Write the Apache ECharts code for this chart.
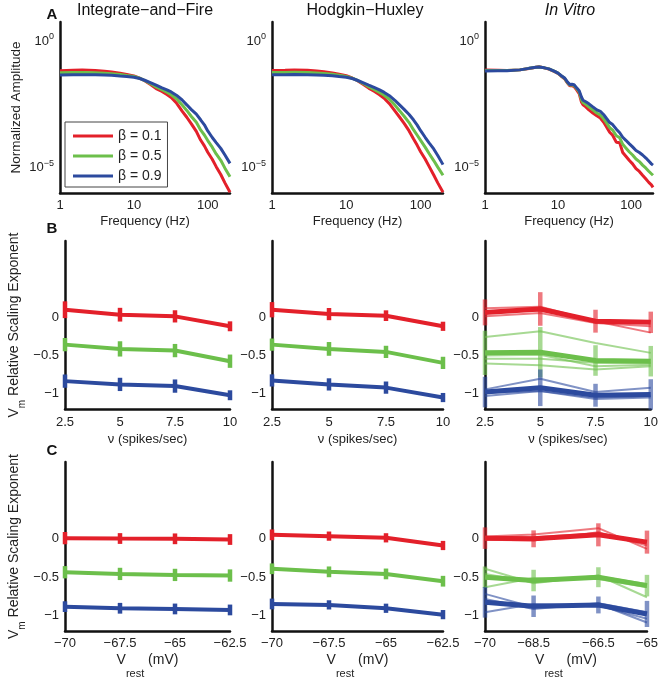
<!DOCTYPE html>
<html><head><meta charset="utf-8">
<script src="https://cdn.jsdelivr.net/npm/echarts@6/dist/echarts.min.js"></script>
<style>html,body{margin:0;padding:0;background:#fff}#c{width:661px;height:682px}</style>
</head><body><div id="c"></div><script>
// ---------------- data ----------------
const panelTitles = ['Integrate\u2212and\u2212Fire', 'Hodgkin\u2212Huxley', 'In Vitro'];
const panelLetters = ['A', 'B', 'C'];
const betaNames = ['\u03b2 = 0.1', '\u03b2 = 0.5', '\u03b2 = 0.9'];

const freqTicks = [1, 10, 100];
const freqTickLabels = ['1', '10', '100'];
const ampTicks = [1e-5, 1];
const ampTickLabels = ['10{sup|\u22125}', '10{sup|0}'];

// Row A: log10 of normalized amplitude
const modelFreq = [1, 1.5, 2, 3, 4, 5, 6.5, 8, 10, 12, 14, 17, 20, 24, 28, 32, 38, 45, 52, 60, 70, 80, 90, 100, 115, 130, 150, 170, 200];
const ifLogRed   = [-1.17, -1.15, -1.14, -1.16, -1.19, -1.22, -1.27, -1.32, -1.38, -1.47, -1.57, -1.73, -1.88, -1.99, -2.11, -2.23, -2.46, -2.77, -3.01, -3.27, -3.57, -3.91, -4.14, -4.39, -4.67, -4.96, -5.27, -5.59, -5.97];
const ifLogGreen = [-1.25, -1.24, -1.24, -1.25, -1.27, -1.29, -1.32, -1.36, -1.40, -1.47, -1.56, -1.69, -1.81, -1.92, -2.02, -2.12, -2.29, -2.53, -2.74, -2.98, -3.21, -3.51, -3.71, -3.93, -4.19, -4.46, -4.71, -5.01, -5.36];
const ifLogBlue  = [-1.34, -1.33, -1.33, -1.33, -1.34, -1.35, -1.38, -1.40, -1.43, -1.48, -1.55, -1.65, -1.74, -1.85, -1.93, -2.01, -2.15, -2.33, -2.52, -2.71, -2.89, -3.11, -3.31, -3.55, -3.81, -4.01, -4.24, -4.49, -4.83];
const hhLogRed   = [-1.16, -1.15, -1.14, -1.15, -1.18, -1.21, -1.26, -1.31, -1.37, -1.46, -1.56, -1.72, -1.86, -1.99, -2.12, -2.25, -2.47, -2.76, -3.00, -3.25, -3.55, -3.86, -4.12, -4.37, -4.66, -4.95, -5.29, -5.60, -5.97];
const hhLogGreen = [-1.24, -1.24, -1.23, -1.24, -1.26, -1.28, -1.31, -1.35, -1.40, -1.47, -1.55, -1.68, -1.80, -1.92, -2.03, -2.13, -2.30, -2.53, -2.75, -2.97, -3.22, -3.50, -3.72, -3.92, -4.19, -4.44, -4.72, -4.98, -5.30];
const hhLogBlue  = [-1.33, -1.33, -1.32, -1.33, -1.34, -1.35, -1.37, -1.40, -1.43, -1.48, -1.55, -1.65, -1.74, -1.84, -1.93, -2.02, -2.16, -2.34, -2.52, -2.70, -2.90, -3.11, -3.32, -3.54, -3.80, -4.02, -4.26, -4.52, -4.88];

const vitroFreq = [1, 1.5, 2, 3, 4, 5, 5.5, 6.5, 7.5, 9, 10, 11, 12.3, 13.5, 14.5, 15.5, 16.6, 18, 19.5, 21, 22, 24, 26.5, 30, 34, 38, 42, 46, 51, 56, 63, 70, 77, 85, 95, 105, 117, 130, 144, 160, 175, 190, 200];
const vitroLogRed   = [-1.14, -1.15, -1.16, -1.14, -1.09, -1.04, -1.02, -1.06, -1.11, -1.21, -1.28, -1.38, -1.49, -1.66, -1.77, -1.76, -1.80, -1.93, -2.08, -2.42, -2.52, -2.60, -2.72, -2.84, -2.95, -3.04, -3.20, -3.38, -3.60, -3.72, -4.00, -4.02, -4.40, -4.55, -4.72, -4.85, -5.04, -5.15, -5.30, -5.45, -5.58, -5.68, -5.78];
const vitroLogGreen = [-1.16, -1.16, -1.16, -1.14, -1.08, -1.04, -1.03, -1.06, -1.10, -1.20, -1.27, -1.37, -1.47, -1.64, -1.74, -1.73, -1.76, -1.88, -2.01, -2.32, -2.43, -2.50, -2.60, -2.72, -2.84, -2.92, -3.06, -3.22, -3.42, -3.52, -3.74, -3.82, -4.08, -4.22, -4.38, -4.50, -4.66, -4.76, -4.90, -5.02, -5.14, -5.24, -5.30];
const vitroLogBlue  = [-1.18, -1.17, -1.17, -1.14, -1.08, -1.04, -1.03, -1.06, -1.10, -1.20, -1.27, -1.36, -1.46, -1.62, -1.72, -1.71, -1.73, -1.85, -1.96, -2.22, -2.34, -2.40, -2.48, -2.60, -2.72, -2.78, -2.90, -3.05, -3.22, -3.30, -3.48, -3.62, -3.80, -3.92, -4.06, -4.18, -4.32, -4.40, -4.50, -4.62, -4.74, -4.85, -4.90];

// Rows B and C
const expTicks = [-1, -0.5, 0];
const expTickLabels = ['\u22121', '\u22120.5', '0'];
const rateVals = [2.5, 5, 7.5, 10];
const rateTickLabels = ['2.5', '5', '7.5', '10'];
const vrestModel = [-70, -67.5, -65, -62.5];
const vrestModelLabels = ['\u221270', '\u221267.5', '\u221265', '\u221262.5'];
const vrestVitro = [-70, -68.5, -66.5, -65];
const vrestVitroLabels = ['\u221270', '\u221268.5', '\u221266.5', '\u221265'];

// B: integrate-and-fire
const ifRateRed = [0.10, 0.035, 0.013, -0.117];
const ifRateGreen = [-0.357, -0.413, -0.435, -0.574];
const ifRateBlue = [-0.835, -0.878, -0.90, -1.02];
const ifRateErrRed = [0.11, 0.09, 0.08, 0.065];
const ifRateErrGreen = [0.087, 0.1, 0.087, 0.087];
const ifRateErrBlue = [0.087, 0.087, 0.087, 0.065];
// B: Hodgkin-Huxley
const hhRateRed = [0.10, 0.043, 0.022, -0.117];
const hhRateGreen = [-0.357, -0.413, -0.452, -0.596];
const hhRateBlue = [-0.826, -0.878, -0.92, -1.05];
const hhRateErrRed = [0.1, 0.08, 0.07, 0.06];
const hhRateErrGreen = [0.08, 0.09, 0.08, 0.08];
const hhRateErrBlue = [0.08, 0.08, 0.08, 0.06];
// B: in vitro (mean + individual cells)
const vRateRed = [0.065, 0.11, -0.05, -0.065];
const vRateGreen = [-0.465, -0.457, -0.565, -0.574];
const vRateBlue = [-0.978, -0.922, -1.02, -1.01];
const vRateErrRed = [0.17, 0.22, 0.15, 0.14];
const vRateErrGreen = [0.29, 0.33, 0.2, 0.2];
const vRateErrBlue = [0.2, 0.24, 0.15, 0.2];
const vRateCellRed1 = [0.12, 0.14, -0.05, -0.2];
const vRateCellRed2 = [0.013, 0.057, -0.074, -0.117];
const vRateCellRed3 = [0.08, 0.09, -0.04, -0.05];
const vRateCellGreen1 = [-0.257, -0.183, -0.335, -0.465];
const vRateCellGreen2 = [-0.543, -0.543, -0.596, -0.596];
const vRateCellGreen3 = [-0.604, -0.626, -0.683, -0.64];
const vRateCellGreen4 = [-0.5, -0.49, -0.64, -0.62];
const vRateCellBlue1 = [-0.943, -0.804, -0.978, -0.922];
const vRateCellBlue2 = [-1.03, -0.965, -1.07, -1.05];
const vRateCellBlue3 = [-0.987, -0.965, -1.05, -1.03];

// C: integrate-and-fire
const ifVRed = [0.009, 0.004, 0, -0.009];
const ifVGreen = [-0.435, -0.457, -0.47, -0.478];
const ifVBlue = [-0.883, -0.904, -0.913, -0.926];
const ifVErrRed = [0.08, 0.07, 0.07, 0.07];
const ifVErrGreen = [0.08, 0.08, 0.08, 0.08];
const ifVErrBlue = [0.07, 0.07, 0.07, 0.07];
// C: Hodgkin-Huxley
const hhVRed = [0.052, 0.035, 0.013, -0.087];
const hhVGreen = [-0.39, -0.43, -0.457, -0.552];
const hhVBlue = [-0.848, -0.86, -0.904, -0.987];
const hhVErrRed = [0.07, 0.06, 0.06, 0.06];
const hhVErrGreen = [0.07, 0.07, 0.07, 0.07];
const hhVErrBlue = [0.07, 0.06, 0.06, 0.06];
// C: in vitro
const vVRed = [0.009, 0, 0.052, -0.043];
const vVGreen = [-0.5, -0.543, -0.5, -0.609];
const vVBlue = [-0.826, -0.878, -0.861, -0.978];
const vVErrRed = [0.14, 0.11, 0.15, 0.15];
const vVErrGreen = [0.14, 0.14, 0.13, 0.14];
const vVErrBlue = [0.2, 0.14, 0.11, 0.17];
const vVCellRed1 = [0.03, 0.057, 0.139, -0.13];
const vVCellRed2 = [-0.013, -0.022, 0.087, -0.087];
const vVCellRed3 = [0.022, 0.022, 0.074, -0.043];
const vVCellGreen1 = [-0.39, -0.578, -0.478, -0.761];
const vVCellGreen2 = [-0.63, -0.509, -0.522, -0.63];
const vVCellGreen3 = [-0.457, -0.565, -0.491, -0.587];
const vVCellBlue1 = [-0.717, -0.891, -0.848, -1.09];
const vVCellBlue2 = [-0.957, -0.848, -0.87, -1.04];
const vVCellBlue3 = [-0.783, -0.913, -0.839, -0.957];

// ---------------- styling / layout ----------------
const COLORS = ['#E3202A', '#6CBF4B', '#2C4A9E'];
const FONT = 'Liberation Sans, Arial, Helvetica, sans-serif';
const colLeft = [60, 272, 485];
const colWidth = [170, 171, 168];
const rowTop = [22, 241, 462];
const rowHeight = [171, 168, 169];

const grids = [];
for (let r = 0; r < 3; r++) for (let c = 0; c < 3; c++) {
  grids.push({ left: colLeft[c], top: rowTop[r], width: colWidth[c], height: rowHeight[r], containLabel: false });
}

const axisLineStyle = { show: true, onZero: false, lineStyle: { color: '#111', width: 2.5 } };
const labelBase = { color: '#222', fontSize: 13, fontFamily: FONT };

function lookup(vals, labels) {
  return v => {
    for (let i = 0; i < vals.length; i++) {
      const d = Math.abs(vals[i] - v);
      if (d < 1e-9 || d / Math.max(Math.abs(vals[i]), 1e-12) < 1e-6) return labels[i];
    }
    return '';
  };
}

const xAxes = [], yAxes = [];
// Row A
for (let c = 0; c < 3; c++) {
  xAxes.push({
    type: 'log', logBase: 10, gridIndex: c, min: 1, max: 200,
    axisLine: axisLineStyle, axisTick: { show: false }, splitLine: { show: false },
    axisLabel: Object.assign({}, labelBase, { customValues: freqTicks, formatter: lookup(freqTicks, freqTickLabels), margin: 6 }),
    name: 'Frequency (Hz)', nameLocation: 'middle', nameGap: 22, nameMoveOverlap: false,
    nameTextStyle: { color: '#222', fontSize: 13, fontFamily: FONT }
  });
  yAxes.push({
    type: 'log', logBase: 10, gridIndex: c, min: 1e-6, max: 5.62,
    axisLine: axisLineStyle, axisTick: { show: false }, splitLine: { show: false },
    axisLabel: Object.assign({}, labelBase, {
      customValues: ampTicks, formatter: lookup(ampTicks, ampTickLabels), margin: 6, lineHeight: 18,
      rich: { sup: { fontSize: 9, lineHeight: 9, verticalAlign: 'top', color: '#222', fontFamily: FONT } }
    }),
    name: c === 0 ? 'Normalized Amplitude' : '', nameLocation: 'middle', nameGap: 36, nameMoveOverlap: false,
    nameTextStyle: { color: '#222', fontSize: 13.5, fontFamily: FONT, lineHeight: 15 }
  });
}
// Rows B, C
const rowXDefs = [
  [[rateVals, rateTickLabels, 2.5, 10], [rateVals, rateTickLabels, 2.5, 10], [rateVals, rateTickLabels, 2.5, 10]],
  [[vrestModel, vrestModelLabels, -70, -62.5], [vrestModel, vrestModelLabels, -70, -62.5], [vrestVitro, vrestVitroLabels, -70, -65]]
];
for (let r = 1; r < 3; r++) for (let c = 0; c < 3; c++) {
  const g = r * 3 + c;
  const d = rowXDefs[r - 1][c];
  xAxes.push({
    type: 'value', gridIndex: g, min: d[2], max: d[3],
    axisLine: axisLineStyle, axisTick: { show: false }, splitLine: { show: false },
    axisLabel: Object.assign({}, labelBase, { customValues: d[0], formatter: lookup(d[0], d[1]), margin: r === 1 ? 7 : 6, showMinLabel: true, showMaxLabel: true }),
    name: r === 1 ? '\u03bd (spikes/sec)' : 'V{sub|rest} (mV)', nameLocation: 'middle',
    nameGap: r === 1 ? 24 : 11, nameMoveOverlap: false,
    nameTextStyle: r === 1 ? { color: '#222', fontSize: 13, fontFamily: FONT } : {
      color: '#222', fontSize: 14, fontFamily: FONT, lineHeight: 37,
      rich: { sub: { fontSize: 11, lineHeight: 11, verticalAlign: 'bottom', color: '#222', fontFamily: FONT } }
    }
  });
  yAxes.push({
    type: 'value', gridIndex: g, min: -1.2, max: 1,
    axisLine: axisLineStyle, axisTick: { show: false }, splitLine: { show: false },
    axisLabel: Object.assign({}, labelBase, { customValues: expTicks, formatter: lookup(expTicks, expTickLabels), margin: 6 }),
    name: c === 0 ? 'V{sub|m} Relative Scaling Exponent' : '', nameLocation: 'middle', nameGap: 38, nameMoveOverlap: false,
    nameTextStyle: {
      color: '#222', fontSize: 14, fontFamily: FONT, lineHeight: 26,
      rich: { sub: { fontSize: 10, lineHeight: 10, verticalAlign: 'bottom', color: '#222', fontFamily: FONT } }
    }
  });
}

const series = [];
function specLine(g, name, xs, logs, color) {
  series.push({
    type: 'line', name, xAxisIndex: g, yAxisIndex: g, symbol: 'none', smooth: false,
    data: xs.map((x, i) => [x, Math.pow(10, logs[i])]),
    lineStyle: { color, width: 3 }, itemStyle: { color }, z: 2
  });
}
function valLine(g, name, xs, ys, color, width, opacity, z) {
  series.push({
    type: 'line', name, xAxisIndex: g, yAxisIndex: g, symbol: 'none',
    data: xs.map((x, i) => [x, ys[i]]),
    lineStyle: { color, width, opacity }, itemStyle: { color }, z
  });
}
function errBars(g, xs, ys, errs, color, opacity, z) {
  series.push({
    type: 'custom', xAxisIndex: g, yAxisIndex: g, z,
    data: xs.map((x, i) => [x, ys[i] - errs[i], ys[i] + errs[i]]),
    encode: { x: 0, y: [1, 2] },
    renderItem: (params, api) => {
      const p1 = api.coord([api.value(0), api.value(1)]);
      const p2 = api.coord([api.value(0), api.value(2)]);
      return { type: 'line', shape: { x1: p1[0], y1: p1[1], x2: p2[0], y2: p2[1] },
        style: { stroke: color, lineWidth: 4.5, opacity } };
    }
  });
}

// Row A
specLine(0, betaNames[0], modelFreq, ifLogRed, COLORS[0]);
specLine(0, betaNames[1], modelFreq, ifLogGreen, COLORS[1]);
specLine(0, betaNames[2], modelFreq, ifLogBlue, COLORS[2]);
specLine(1, 'HH 0.1', modelFreq, hhLogRed, COLORS[0]);
specLine(1, 'HH 0.5', modelFreq, hhLogGreen, COLORS[1]);
specLine(1, 'HH 0.9', modelFreq, hhLogBlue, COLORS[2]);
specLine(2, 'IV 0.1', vitroFreq, vitroLogRed, COLORS[0]);
specLine(2, 'IV 0.5', vitroFreq, vitroLogGreen, COLORS[1]);
specLine(2, 'IV 0.9', vitroFreq, vitroLogBlue, COLORS[2]);

// Model panels rows B, C
const modelSets = [
  [3, rateVals, [ifRateRed, ifRateGreen, ifRateBlue], [ifRateErrRed, ifRateErrGreen, ifRateErrBlue]],
  [4, rateVals, [hhRateRed, hhRateGreen, hhRateBlue], [hhRateErrRed, hhRateErrGreen, hhRateErrBlue]],
  [6, vrestModel, [ifVRed, ifVGreen, ifVBlue], [ifVErrRed, ifVErrGreen, ifVErrBlue]],
  [7, vrestModel, [hhVRed, hhVGreen, hhVBlue], [hhVErrRed, hhVErrGreen, hhVErrBlue]]
];
modelSets.forEach(s => {
  for (let k = 0; k < 3; k++) {
    valLine(s[0], 'm' + s[0] + k, s[1], s[2][k], COLORS[k], 4, 1, 2);
    errBars(s[0], s[1], s[2][k], s[3][k], COLORS[k], 1, 3);
  }
});

// In vitro panels
const vitroSets = [
  [5, rateVals,
    [[vRateCellRed1, vRateCellRed2, vRateCellRed3], [vRateCellGreen1, vRateCellGreen2, vRateCellGreen3, vRateCellGreen4], [vRateCellBlue1, vRateCellBlue2, vRateCellBlue3]],
    [vRateRed, vRateGreen, vRateBlue], [vRateErrRed, vRateErrGreen, vRateErrBlue]],
  [8, vrestVitro,
    [[vVCellRed1, vVCellRed2, vVCellRed3], [vVCellGreen1, vVCellGreen2, vVCellGreen3], [vVCellBlue1, vVCellBlue2, vVCellBlue3]],
    [vVRed, vVGreen, vVBlue], [vVErrRed, vVErrGreen, vVErrBlue]]
];
vitroSets.forEach(s => {
  for (let k = 0; k < 3; k++) {
    s[2][k].forEach((cell, j) => valLine(s[0], 'c' + s[0] + k + j, s[1], cell, COLORS[k], 2, 0.6, 1));
    errBars(s[0], s[1], s[3][k], s[4][k], COLORS[k], 0.6, 2);
    valLine(s[0], 'v' + s[0] + k, s[1], s[3][k], COLORS[k], 5, 1, 3);
  }
});

// Text elements: titles and panel letters
const titleX = [145, 365, 570];
const graphics = [];
panelTitles.forEach((t, i) => graphics.push({
  type: 'text', x: titleX[i], y: 11,
  style: { text: t, fontSize: 16, fontFamily: FONT, fill: '#111', align: 'center', verticalAlign: 'middle', fontStyle: i === 2 ? 'italic' : 'normal' }
}));
const letterY = [15, 229, 451];
panelLetters.forEach((t, i) => graphics.push({
  type: 'text', x: 52, y: letterY[i],
  style: { text: t, fontSize: 15, fontWeight: 'bold', fontFamily: FONT, fill: '#111', align: 'center', verticalAlign: 'middle' }
}));

const chart = echarts.init(document.getElementById('c'), null, { renderer: 'canvas' });
chart.setOption({
  animation: false,
  backgroundColor: '#fff',
  grid: grids,
  xAxis: xAxes,
  yAxis: yAxes,
  legend: {
    data: betaNames.map(n => ({ name: n, icon: 'rect' })),
    orient: 'vertical', left: 65, top: 122,
    borderColor: '#444', borderWidth: 1, backgroundColor: '#fff',
    padding: [6, 6, 3, 8], itemWidth: 40, itemHeight: 3, itemGap: 4,
    textStyle: { fontSize: 14, color: '#222', fontFamily: FONT, lineHeight: 16 },
    selectedMode: false
  },
  graphic: graphics,
  series
});
</script></body></html>
